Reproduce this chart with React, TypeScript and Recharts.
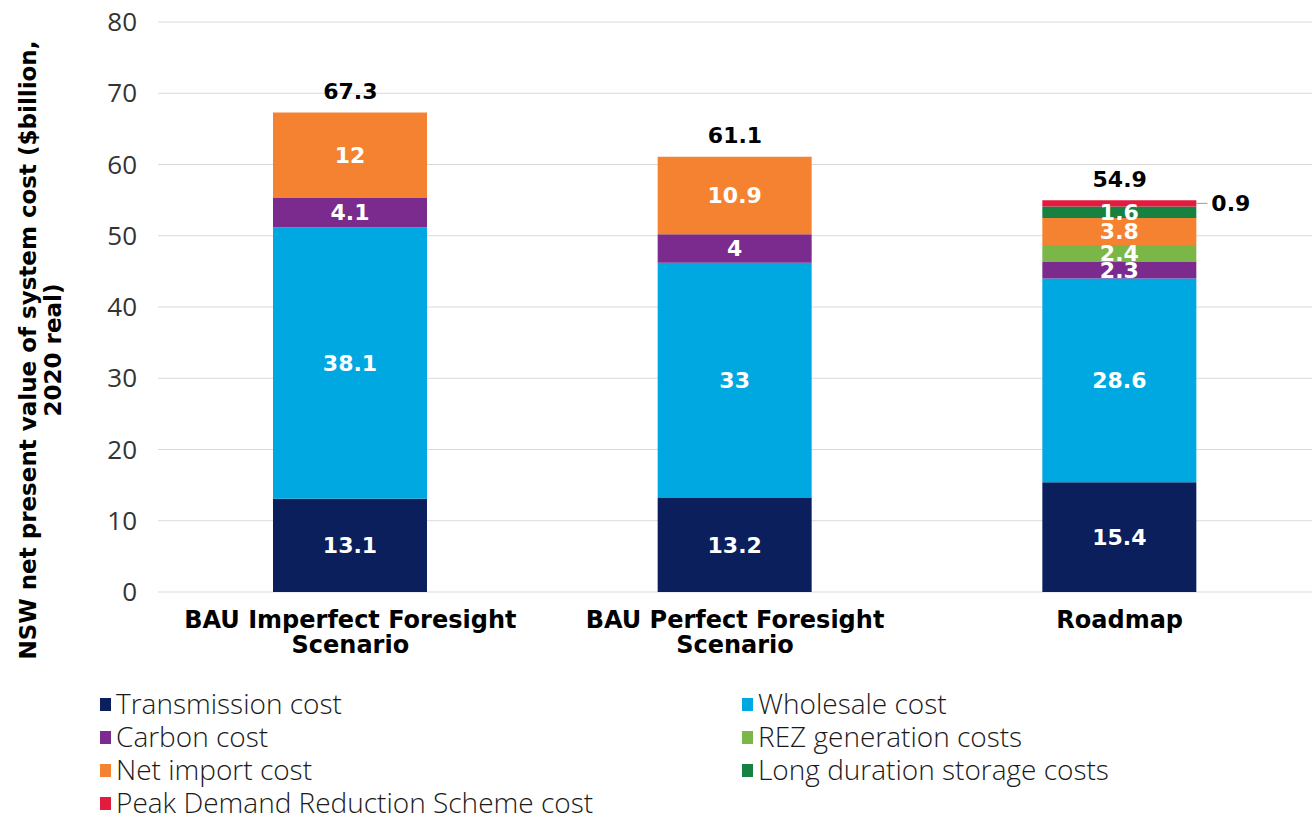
import React from 'react';
import { ComposedChart, Bar, Line, XAxis, YAxis, CartesianGrid, Legend, LabelList } from 'recharts';

// categorias e séries
const categorias = ['BAU Imperfect Foresight\nScenario', 'BAU Perfect Foresight\nScenario', 'Roadmap'];
const transmissao = [13.1, 13.2, 15.4];
const atacado = [38.1, 33, 28.6];
const carbono = [4.1, 4, 2.3];
const rez = [0, 0, 2.4];
const importacao = [12, 10.9, 3.8];
const armazenamento = [0, 0, 1.6];
const pico = [0, 0, 0.9];
const totais = [67.3, 61.1, 54.9];
const yTicks = [0, 10, 20, 30, 40, 50, 60, 70, 80];

const series = [
  { key: 'transmissao', nome: 'Transmission cost', cor: '#0b1f5c' },
  { key: 'atacado', nome: 'Wholesale cost', cor: '#00a8e1' },
  { key: 'carbono', nome: 'Carbon cost', cor: '#7a2b8d' },
  { key: 'rez', nome: 'REZ generation costs', cor: '#7ab648' },
  { key: 'importacao', nome: 'Net import cost', cor: '#f58231' },
  { key: 'armazenamento', nome: 'Long duration storage costs', cor: '#168140' },
  { key: 'pico', nome: 'Peak Demand Reduction Scheme cost', cor: '#e31b3e' },
];

const data = categorias.map((name, i) => ({
  name,
  transmissao: transmissao[i],
  atacado: atacado[i],
  carbono: carbono[i],
  rez: rez[i],
  importacao: importacao[i],
  armazenamento: armazenamento[i],
  pico: pico[i],
  total: totais[i],
}));

const NEGRITO = '"DejaVu Sans", sans-serif';
const FONTE = '"Open Sans", sans-serif';

const TickX = (props: any) => {
  const { x, y, payload } = props;
  const linhas = String(payload.value).split('\n');
  return (
    <text x={x} y={y} textAnchor="middle" fill="#000" fontFamily={NEGRITO} fontWeight={700} fontSize={24}>
      {linhas.map((l, i) => (
        <tspan key={i} x={x} dy={i === 0 ? 34 : 25}>{l}</tspan>
      ))}
    </text>
  );
};

const RotuloY = () => (
  <text transform="translate(36, 350) rotate(-90)" textAnchor="middle" fill="#000" fontFamily={NEGRITO} fontWeight={700} fontSize={23}>
    <tspan x={0} dy={0}>NSW net present value of system cost ($billion,</tspan>
    <tspan x={0} dy={25}>2020 real)</tspan>
  </text>
);

const rotuloSegmento = (v: any) => (v && v > 0 ? String(v) : '');

// rótulo do pico fica de fora, com linha guia
const RotuloPico = (props: any) => {
  const { x, y, width, height, value } = props;
  if (!value || value <= 0) return null;
  const cy = y + height / 2;
  return (
    <g>
      <line x1={x + width} y1={cy} x2={x + width + 11} y2={cy} stroke="#999" strokeWidth={1} />
      <text x={x + width + 15} y={cy} dominantBaseline="central" fill="#000" fontFamily={NEGRITO} fontWeight={700} fontSize={22}>
        {value}
      </text>
    </g>
  );
};

const RotuloTotal = (props: any) => {
  const { x, y, value } = props;
  return (
    <text x={x} y={y - 21} textAnchor="middle" dominantBaseline="central" fill="#000" fontFamily={NEGRITO} fontWeight={700} fontSize={22}>
      {value}
    </text>
  );
};

const Legenda = () => (
  <div style={{ position: 'relative', width: 1312, height: 130, fontFamily: FONTE, fontWeight: 300, fontSize: 28, color: '#1a1a1a' }}>
    {series.map((s, i) => (
      <div
        key={s.key}
        style={{
          position: 'absolute',
          left: i % 2 === 0 ? 100 : 742,
          top: Math.floor(i / 2) * 33 + 2,
          height: 30,
          display: 'flex',
          alignItems: 'center',
          whiteSpace: 'nowrap',
          lineHeight: '30px',
        }}
      >
        <span style={{ display: 'inline-block', width: 11, height: 13, background: s.cor, marginRight: 5, marginTop: 3 }} />
        {s.nome}
      </div>
    ))}
  </div>
);

export default function App() {
  return (
    <div style={{ position: 'absolute', left: 0, top: 0 }}>
      <ComposedChart width={1312} height={814} data={data} margin={{ top: 22, right: 0, left: 0, bottom: 2 }}>
        <CartesianGrid vertical={false} stroke="#d9d9d9" />
        <XAxis dataKey="name" axisLine={false} tickLine={false} tickSize={0} height={90} tick={<TickX />} interval={0} />
        <YAxis
          width={158}
          domain={[0, 80]}
          ticks={yTicks}
          axisLine={false}
          tickLine={false}
          tickSize={0}
          tickMargin={21}
          tick={{ fill: '#333', fontSize: 26, fontFamily: FONTE, fontWeight: 400 }}
          label={<RotuloY />}
        />
        <Legend verticalAlign="bottom" content={<Legenda />} wrapperStyle={{ left: 0, top: 686, width: 1312, height: 130 }} />
        {series.map((s) => (
          <Bar key={s.key} dataKey={s.key} name={s.nome} stackId="a" fill={s.cor} barSize={154} isAnimationActive={false}>
            {s.key === 'pico' ? (
              <LabelList dataKey={s.key} content={<RotuloPico />} />
            ) : (
              <LabelList
                dataKey={s.key}
                position="center"
                formatter={rotuloSegmento}
                fill="#fff"
                style={{ fontFamily: NEGRITO, fontWeight: 700, fontSize: 22 }}
              />
            )}
          </Bar>
        ))}
        <Line dataKey="total" stroke="none" dot={false} activeDot={false} legendType="none" isAnimationActive={false}>
          <LabelList dataKey="total" content={<RotuloTotal />} />
        </Line>
      </ComposedChart>
    </div>
  );
}
